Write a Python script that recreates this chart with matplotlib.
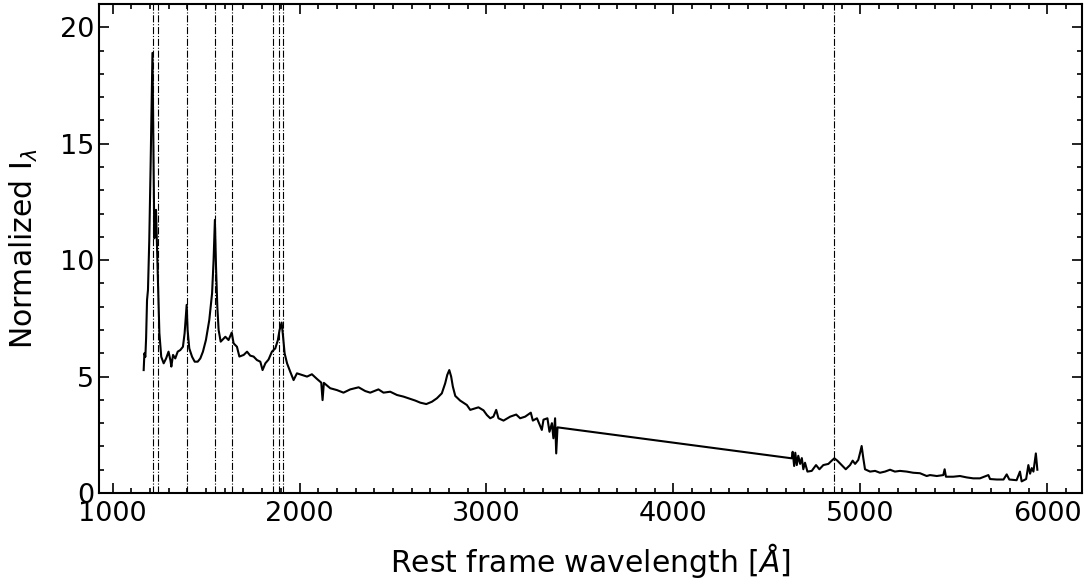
import matplotlib
matplotlib.use("Agg")
import matplotlib.pyplot as plt
from matplotlib.ticker import MultipleLocator

# Rest-frame wavelength [Angstrom] and normalized flux
wave = [1166, 1170, 1175, 1179, 1184, 1189, 1196, 1203, 1213, 1218, 1223, 1228, 1232, 1235,
        1241, 1250, 1260, 1273, 1286, 1299, 1309, 1314, 1323, 1335, 1348, 1362, 1376, 1385,
        1396, 1401, 1410, 1425, 1439, 1455, 1469, 1483, 1499, 1517, 1532, 1540, 1547, 1553,
        1560, 1567, 1578, 1603, 1620, 1637, 1647, 1665, 1678, 1701, 1719, 1736, 1754, 1772,
        1790, 1802, 1817, 1834, 1852, 1870, 1884, 1893, 1904, 1911, 1920, 1933, 1950, 1968,
        1986, 2013, 2040, 2066, 2093, 2116, 2123, 2130, 2164, 2200, 2235, 2271, 2316, 2351,
        2378, 2422, 2449, 2485, 2521, 2556, 2592, 2619, 2646, 2678, 2708, 2735, 2761, 2779,
        2790, 2801, 2811, 2820, 2833, 2859, 2895, 2913, 2957, 2984, 3002, 3020, 3037, 3052,
        3064, 3091, 3127, 3159, 3180, 3207, 3237, 3248, 3270, 3296, 3305, 3326, 3337, 3350,
        3358, 3367, 3373, 3380,
        4633, 4638, 4646, 4652, 4660, 4668, 4678, 4687, 4695, 4704, 4717, 4740, 4763, 4781,
        4802, 4829, 4847, 4861, 4877, 4900, 4922, 4945, 4959, 4972, 4989, 5000, 5007, 5016,
        5025, 5052, 5079, 5105, 5132, 5159, 5185, 5212, 5248, 5283, 5319, 5355, 5373, 5409,
        5444, 5451, 5458, 5497, 5533, 5569, 5604, 5640, 5685, 5694, 5730, 5766, 5783, 5797,
        5836, 5854, 5863, 5887, 5899, 5908, 5917, 5926, 5939, 5947]
flux = [5.28, 6.00, 5.85, 6.65, 8.29, 8.72, 10.87, 14.0, 18.9, 14.7, 10.94, 11.87, 12.16, 11.3,
        9.45, 6.87, 5.85, 5.57, 5.78, 6.07, 5.70, 5.43, 5.93, 5.78, 6.07, 6.14, 6.28, 6.86,
        8.08, 7.00, 6.21, 5.85, 5.64, 5.64, 5.78, 6.07, 6.57, 7.43, 8.58, 10.0, 11.73, 9.72,
        8.00, 7.00, 6.50, 6.71, 6.57, 6.89, 6.43, 6.28, 5.86, 5.93, 6.07, 5.90, 5.86, 5.71,
        5.64, 5.28, 5.57, 5.73, 6.07, 6.21, 6.57, 7.00, 7.32, 6.78, 6.00, 5.57, 5.21, 4.85,
        5.14, 5.07, 5.00, 5.10, 4.90, 4.74, 3.99, 4.73, 4.50, 4.42, 4.31, 4.45, 4.54, 4.38,
        4.31, 4.45, 4.31, 4.35, 4.21, 4.14, 4.04, 3.97, 3.88, 3.82, 3.92, 4.07, 4.28, 4.71,
        5.07, 5.28, 5.00, 4.57, 4.17, 3.97, 3.78, 3.57, 3.68, 3.55, 3.35, 3.21, 3.28, 3.57,
        3.21, 3.11, 3.28, 3.37, 3.21, 3.28, 3.45, 3.11, 3.21, 2.71, 3.15, 3.21, 2.63, 3.00,
        2.35, 3.21, 1.70, 2.82,
        1.49, 1.77, 1.16, 1.73, 1.20, 1.60, 1.25, 1.50, 1.02, 1.30, 0.92, 0.95, 1.20, 1.02,
        1.20, 1.25, 1.39, 1.49, 1.39, 1.20, 1.02, 1.20, 1.39, 1.25, 1.42, 1.77, 2.02, 1.49,
        1.02, 0.92, 0.95, 0.87, 0.92, 1.00, 0.92, 0.95, 0.92, 0.87, 0.85, 0.73, 0.77, 0.73,
        0.77, 1.02, 0.70, 0.70, 0.73, 0.67, 0.63, 0.63, 0.77, 0.60, 0.58, 0.58, 0.80, 0.58,
        0.55, 0.92, 0.50, 0.60, 1.20, 0.83, 1.07, 0.92, 1.70, 1.00]

# Emission line markers [Angstrom]
line_waves = [1216, 1240, 1400, 1549, 1640, 1857, 1892, 1909, 4861]

fig = plt.figure(figsize=(10.89, 5.84), dpi=100)
ax = fig.add_axes([0.0909, 0.1558, 0.9027, 0.8373])

ax.plot(wave, flux, color="black", lw=1.5)
for lw_ in line_waves:
    ax.axvline(lw_, color="black", ls="-.", lw=0.8)

ax.set_ylim(0, 21)
ax.margins(x=0.05)
ax.xaxis.set_major_locator(MultipleLocator(1000))
ax.xaxis.set_minor_locator(MultipleLocator(100))
ax.yaxis.set_major_locator(MultipleLocator(5))
ax.yaxis.set_minor_locator(MultipleLocator(1))
ax.tick_params(which="both", direction="in", top=True, right=True, labelsize=19.5, width=1.2)
ax.tick_params(which="major", length=7)
ax.tick_params(axis="x", which="major", pad=6)
ax.tick_params(which="minor", length=3.5)
for s in ax.spines.values():
    s.set_linewidth(1.5)

ax.set_xlabel(r"Rest frame wavelength [$\AA$]", fontsize=21.5, labelpad=10)
ax.set_ylabel(r"Normalized I$_\lambda$", fontsize=21.5, labelpad=14)

fig.savefig("out.png", dpi=100)
